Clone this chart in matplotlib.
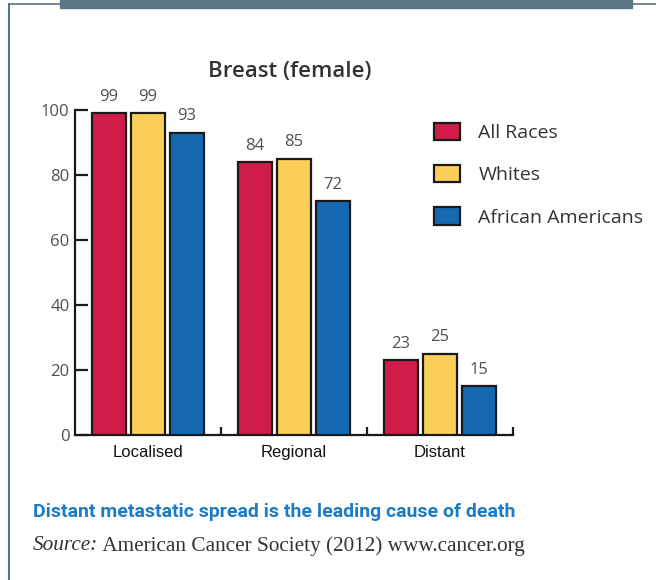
"""
Breast (female) five-year survival by stage and race.
"""

import matplotlib
matplotlib.use("Agg")
import matplotlib.pyplot as plt
from matplotlib.lines import Line2D
from matplotlib.patches import Rectangle
import numpy as np

# Data
stages = ["Localised", "Regional", "Distant"]
series_names = ["All Races", "Whites", "African Americans"]
all_races = [99, 84, 23]
whites = [99, 85, 25]
african_americans = [93, 72, 15]
y_ticks = [0, 20, 40, 60, 80, 100]

colors = ["#d01c48", "#fccf59", "#1569b2"]
frame_color = "#5a7583"
label_gray = "#4f4f55"
W, H = 656, 580

fig = plt.figure(figsize=(W / 100, H / 100), dpi=100)
ax = fig.add_axes([75 / W, 1 - 435 / H, 438 / W, 325 / H])

x = np.arange(len(stages)) + 0.5
width = 0.233
step = 0.267
series = [all_races, whites, african_americans]

handles = []
for i, (vals, col) in enumerate(zip(series, colors)):
    pos = x + (i - 1) * step
    bars = ax.bar(pos, vals, width, color=col, edgecolor="#1a1a1a", linewidth=1.6, zorder=3)
    handles.append(bars)
    for p, v in zip(pos, vals):
        ax.text(p, v + 2.6, str(v), ha="center", va="bottom", fontsize=12,
                color=label_gray, family="Open Sans")

ax.set_xlim(0, 3)
ax.set_ylim(0, 100)
ax.set_yticks(y_ticks)
ax.set_yticklabels([str(t) for t in y_ticks], family="Open Sans", fontsize=12, color=label_gray)
ax.tick_params(axis="y", direction="in", length=9, width=1.6, pad=4, color="#1a1a1a")

# category boundary ticks on the x axis pointing up
ax.set_xticks([1, 2, 3])
ax.set_xticklabels([])
ax.tick_params(axis="x", direction="in", length=5.5, width=1.6, color="#1a1a1a")
for xc, name in zip(x, stages):
    ax.text(xc, -3.0, name, ha="center", va="top", fontsize=12,
            family="Liberation Sans", color="#111111")

for s in ["top", "right"]:
    ax.spines[s].set_visible(False)
for s in ["left", "bottom"]:
    ax.spines[s].set_linewidth(1.6)
    ax.spines[s].set_color("#1a1a1a")

fig.text(290 / W, 1 - 72 / H, "Breast (female)", fontsize=16, family="Open Sans",
         weight="semibold", color="#333333", ha="center", va="center")

leg = fig.legend(handles, series_names, loc="upper left", bbox_to_anchor=(424 / W, 1 - 113 / H),
                 frameon=False, borderpad=0, labelspacing=1.18, handlelength=1.35, handleheight=1.0,
                 handletextpad=0.95, prop={"family": "Open Sans", "size": 14})
for t in leg.get_texts():
    t.set_color("#333333")

# caption and source
fig.text(33 / W, 1 - 512 / H, "Distant metastatic spread is the leading cause of death",
         fontsize=14, family="Roboto", weight="bold", color="#1c7cc3", va="center")
src = fig.text(33 / W, 1 - 546 / H, "Source:", fontsize=15.3, family="Liberation Serif",
               style="italic", color="#333333", va="center")
fig.canvas.draw()
bb = src.get_window_extent()
fig.text(bb.x1 / W, 1 - 546 / H, " American Cancer Society (2012) www.cancer.org", fontsize=15.3,
         family="Liberation Serif", color="#333333", va="center")

# page frame
fig.add_artist(Line2D([9 / W, 9 / W], [0, 1 - 4 / H], color=frame_color, lw=1.5))
fig.add_artist(Line2D([9 / W, 1], [1 - 4 / H, 1 - 4 / H], color=frame_color, lw=1.2))
fig.add_artist(Rectangle((60 / W, 1 - 8 / H), 572 / W, 8 / H, color=frame_color))

fig.savefig("out.png", dpi=100)
